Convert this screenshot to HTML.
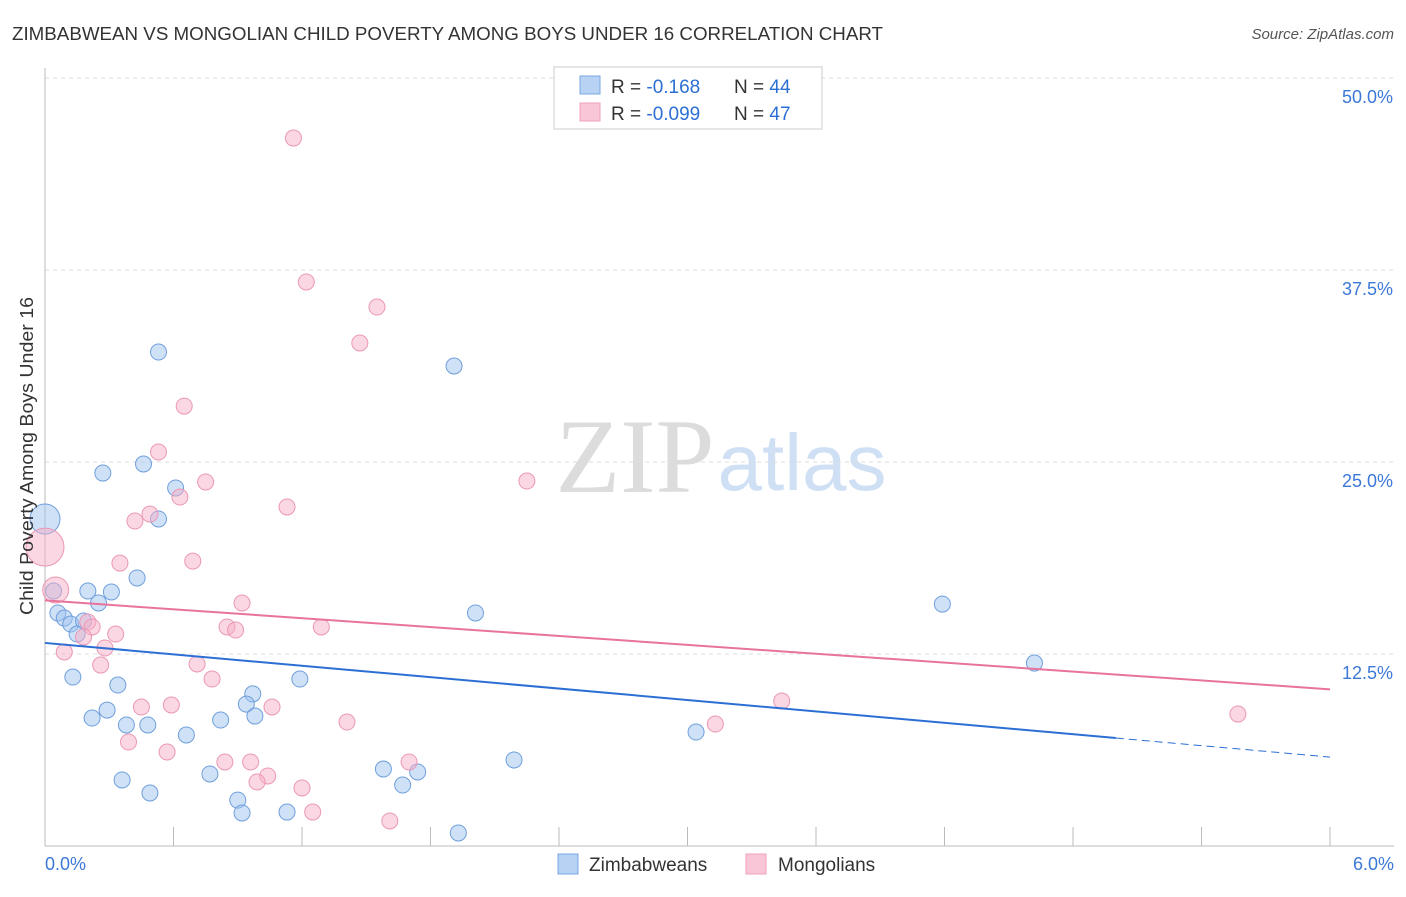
<!DOCTYPE html>
<html><head><meta charset="utf-8">
<style>
body{margin:0;background:#fff;width:1406px;height:892px;overflow:hidden;font-family:"Liberation Sans",sans-serif}
</style></head>
<body>
<svg id="chart" width="1406" height="892" xmlns="http://www.w3.org/2000/svg" font-family="Liberation Sans, sans-serif">
<text x="12" y="40" font-size="18" fill="#333" textLength="871" lengthAdjust="spacingAndGlyphs">ZIMBABWEAN VS MONGOLIAN CHILD POVERTY AMONG BOYS UNDER 16 CORRELATION CHART</text>
<text x="1394" y="39" font-size="15" fill="#555" text-anchor="end" font-style="italic">Source: ZipAtlas.com</text>
<g>
<text x="635" y="492" font-size="106" fill="#dcdcdc" font-family="Liberation Serif, serif" text-anchor="middle">ZIP</text>
<text x="802" y="490" font-size="80" fill="#cfe0f5" text-anchor="middle">atlas</text>
</g>
<g id="grid"></g>
<g id="axes"></g>
<g id="pts"></g>
<g id="trend"></g>
<text transform="translate(33,456) rotate(-90)" font-size="18" fill="#333" text-anchor="middle" textLength="318" lengthAdjust="spacingAndGlyphs">Child Poverty Among Boys Under 16</text>
<g>
<rect x="554" y="67" width="268" height="62" fill="#fff" stroke="#ccc"/>
<rect x="580" y="76" width="20" height="18" fill="#b8d2f4" stroke="#7aa8e0"/>
<rect x="580" y="103" width="20" height="18" fill="#f8c6d6" stroke="#f0a0bc"/>
<text x="611" y="93" font-size="19" fill="#333">R = <tspan fill="#2c6fd4">-0.168</tspan></text>
<text x="734" y="93" font-size="19" fill="#333">N = <tspan fill="#2c6fd4">44</tspan></text>
<text x="611" y="120" font-size="19" fill="#333">R = <tspan fill="#2c6fd4">-0.099</tspan></text>
<text x="734" y="120" font-size="19" fill="#333">N = <tspan fill="#2c6fd4">47</tspan></text>
</g>
<g>
<rect x="558" y="854" width="20" height="20" fill="#b8d2f4" stroke="#7aa8e0"/>
<text x="589" y="871" font-size="19" fill="#333">Zimbabweans</text>
<rect x="746" y="854" width="20" height="20" fill="#f8c6d6" stroke="#f0a0bc"/>
<text x="778" y="871" font-size="19" fill="#333">Mongolians</text>
</g>
</svg>
<script>
const blueX=[0.00,0.53,1.91,0.27,0.46,0.61,0.53,0.43,0.04,0.20,0.31,0.25,0.06,0.09,0.12,0.18,0.15,2.01,4.19,4.62,0.13,0.34,1.19,0.97,0.94,0.29,0.22,0.38,0.48,0.82,0.98,0.66,3.04,2.19,1.58,1.74,0.77,0.36,1.67,0.49,0.90,0.92,1.13,1.93];
const blueY=[21.29,32.16,31.25,24.28,24.87,23.31,21.29,17.45,16.60,16.60,16.54,15.82,15.17,14.84,14.45,14.65,13.80,15.17,15.75,11.91,11.00,10.48,10.87,9.90,9.24,8.85,8.33,7.88,7.88,8.20,8.46,7.23,7.42,5.60,5.01,4.82,4.69,4.30,3.97,3.45,2.99,2.15,2.21,0.85];
const pinkX=[1.16,1.22,1.55,1.47,0.65,0.53,2.25,0.75,0.63,1.13,0.49,0.42,0.00,0.69,0.35,0.05,0.92,0.20,0.22,0.85,0.89,1.29,0.33,0.18,0.28,0.09,0.26,0.71,0.78,0.59,0.45,1.06,3.44,1.41,3.13,5.57,0.39,0.57,0.84,0.96,1.70,1.04,0.99,1.20,1.25,1.61];
const pinkY=[46.09,36.72,35.09,32.75,28.64,25.65,23.76,23.70,22.72,22.07,21.61,21.16,19.46,18.55,18.42,16.67,15.82,14.58,14.26,14.26,14.06,14.26,13.80,13.61,12.89,12.63,11.78,11.85,10.87,9.18,9.05,9.05,9.44,8.07,7.94,8.59,6.77,6.12,5.47,5.47,5.47,4.56,4.17,3.78,2.21,1.63];
const bigBlue={0:15}, bigPink={12:19,15:13};
const yTicks=[12.5,25,37.5,50];
const yTickLabels=["12.5%","25.0%","37.5%","50.0%"];
const blueTrend=[13.22,5.79], pinkTrend=[15.99,10.2];
const NS="http://www.w3.org/2000/svg";
const X=v=>45+v/6*1285, Y=v=>846-v*15.36;
function mk(t,a,p){const e=document.createElementNS(NS,t);for(const k in a)e.setAttribute(k,a[k]);p.appendChild(e);return e;}
const grid=document.getElementById('grid'),axes=document.getElementById('axes'),pts=document.getElementById('pts'),tr=document.getElementById('trend');
yTicks.forEach((t,i)=>{
 const l=mk('line',{x1:45,x2:1394,y1:Y(t),y2:Y(t),stroke:'#ddd','stroke-dasharray':'4,4'},grid);
 
 
 const tx=mk('text',{x:1393,y:Y(t)+25,'font-size':18,fill:'#3b78d8','text-anchor':'end'},axes);
 tx.textContent=yTickLabels[i];
 
 
});
mk('line',{x1:45,x2:45,y1:68,y2:846,stroke:'#bbb'},axes);
mk('line',{x1:45,x2:1394,y1:846,y2:846,stroke:'#bbb'},axes);
for(let i=0;i<=10;i++){const x=X(i*0.6);mk('line',{x1:x,x2:x,y1:827,y2:846,stroke:'#bbb'},axes);}
const x0=mk('text',{x:45,y:870,'font-size':18,fill:'#3b78d8'},axes);x0.textContent='0.0%';


const x6=mk('text',{x:1394,y:870,'font-size':18,fill:'#3b78d8','text-anchor':'end'},axes);x6.textContent='6.0%';


function dots(xs,ys,big,fill,stroke,name){xs.forEach((x,i)=>{
 const c=mk('circle',{cx:X(x),cy:Y(ys[i]),r:big[i]||8,fill:fill,stroke:stroke,'stroke-width':1},pts);
 
 
});}
dots(blueX,blueY,bigBlue,'rgba(160,196,240,0.5)','#6f9fdc','zimbabwean-point');
dots(pinkX,pinkY,bigPink,'rgba(246,176,200,0.5)','#eb98b5','mongolian-point');
const bAt=x=>blueTrend[0]+(blueTrend[1]-blueTrend[0])*x/6;
let l1=mk('line',{x1:X(0),y1:Y(bAt(0)),x2:X(5),y2:Y(bAt(5)),stroke:'#2c6fd4','stroke-width':2},tr);


let l2=mk('line',{x1:X(5),y1:Y(bAt(5)),x2:X(6),y2:Y(bAt(6)),stroke:'#2c6fd4','stroke-width':1,'stroke-dasharray':'8,5'},tr);


let l3=mk('line',{x1:X(0),y1:Y(pinkTrend[0]),x2:X(6),y2:Y(pinkTrend[1]),stroke:'#e8739b','stroke-width':2},tr);


</script>
</body></html>
